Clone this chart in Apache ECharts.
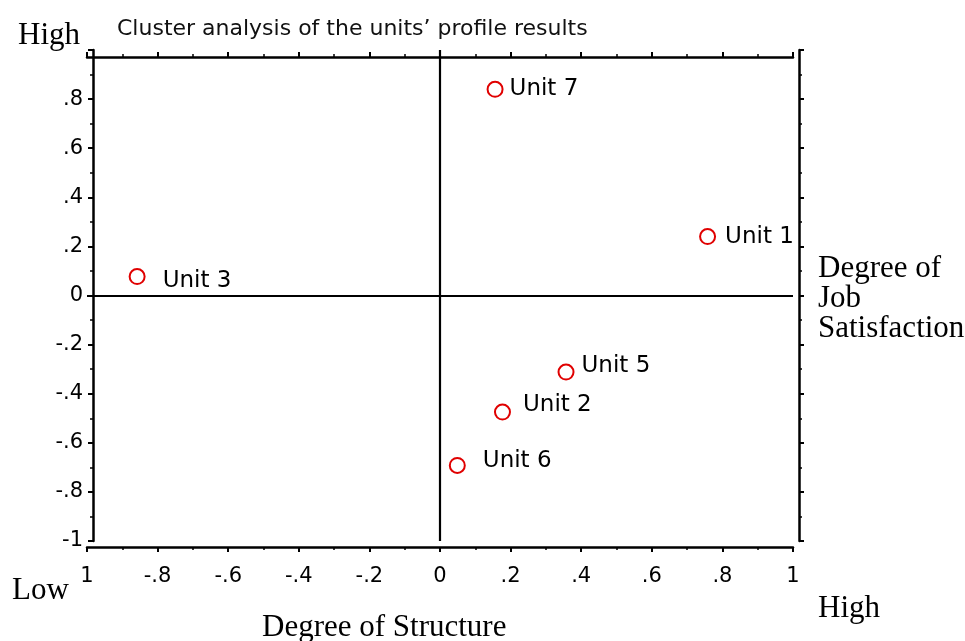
<!DOCTYPE html>
<html>
<head>
<meta charset="utf-8">
<script src="https://cdn.jsdelivr.net/npm/echarts@6/dist/echarts.min.js"></script>
<style>
  html, body { margin: 0; padding: 0; background: #fff; }
  #chart { width: 965px; height: 641px; }
</style>
</head>
<body>
<div id="chart"></div>
<script>
// units and their coordinates (structure, job satisfaction)
var units = ["Unit 7", "Unit 1", "Unit 3", "Unit 5", "Unit 2", "Unit 6"];
var structure = [0.156, 0.758, -0.858, 0.357, 0.177, 0.049];
var satisfaction = [0.840, 0.240, 0.077, -0.312, -0.475, -0.692];

// tick labels as printed on the original
var xTickLabels = ["1", "-.8", "-.6", "-.4", "-.2", "0", ".2", ".4", ".6", ".8", "1"];
var yTickLabels = ["-1", "-.8", "-.6", "-.4", "-.2", "0", ".2", ".4", ".6", ".8", ""];

// label nudges, px (layout only)
var labelOffsets = [[1, 0], [4, 0], [12, 4], [2, -6], [7, -7], [12, -4]];

var sans = "DejaVu Sans";
var serif = "Liberation Serif";
var ink = "#000";

function tickText(list) {
  return function (v) {
    var i = Math.round((v + 1) / 0.2);
    return list[i] == null ? "" : list[i];
  };
}

var points = units.map(function (name, i) {
  return {
    name: name,
    value: [structure[i], satisfaction[i]],
    label: { offset: labelOffsets[i] }
  };
});

var axisBase = {
  type: "value",
  min: -1,
  max: 1,
  interval: 0.2,
  axisLine: { show: true, onZero: false, lineStyle: { color: ink, width: 2.5 } },
  axisTick: { show: true, length: 5, lineStyle: { color: ink, width: 2 } },
  minorTick: { show: true, splitNumber: 2, length: 3, lineStyle: { color: ink, width: 1.5 } },
  splitLine: { show: false }
};

var option = {
  backgroundColor: "#fff",
  animation: false,
  title: {
    text: "Cluster analysis of the units\u2019 profile results",
    left: 112,
    top: 13,
    textStyle: { fontFamily: sans, fontSize: 22, fontWeight: "normal", color: "#111" }
  },
  grid: { left: 87, right: 172, top: 50, bottom: 100 },
  xAxis: [
    Object.assign({}, axisBase, {
      position: "bottom",
      offset: 6,
      axisLabel: { formatter: tickText(xTickLabels), fontFamily: sans, fontSize: 21, color: ink, margin: 19 }
    }),
    Object.assign({}, axisBase, {
      position: "top",
      offset: -7,
      axisLabel: { show: false }
    })
  ],
  yAxis: [
    Object.assign({}, axisBase, {
      position: "left",
      offset: -6,
      axisLabel: { formatter: tickText(yTickLabels), fontFamily: sans, fontSize: 21, color: ink, margin: 10 }
    }),
    Object.assign({}, axisBase, {
      position: "right",
      offset: 6,
      axisLabel: { show: false }
    })
  ],
  series: [
    {
      type: "scatter",
      data: points,
      symbol: "emptyCircle",
      symbolSize: 15,
      itemStyle: { color: "#e00000", borderColor: "#e00000", borderWidth: 2.2, opacity: 1 },
      label: {
        show: true,
        position: "right",
        formatter: "{b}",
        fontFamily: sans,
        fontSize: 23,
        color: ink
      },
      markLine: {
        silent: true,
        symbol: "none",
        label: { show: false },
        lineStyle: { color: ink, width: 2.2, type: "solid", opacity: 1 },
        data: [{ xAxis: 0 }, { yAxis: 0 }]
      }
    }
  ],
  graphic: [
    { type: "text", left: 18, top: 20, style: { text: "High", font: "31px " + serif, fill: ink } },
    { type: "text", left: 12, top: 575, style: { text: "Low", font: "31px " + serif, fill: ink } },
    { type: "text", left: 818, top: 593, style: { text: "High", font: "31px " + serif, fill: ink } },
    { type: "text", left: 262, top: 612, style: { text: "Degree of Structure", font: "31px " + serif, fill: ink } },
    {
      type: "text", left: 818, top: 253,
      style: { text: "Degree of\nJob\nSatisfaction", font: "31px " + serif, lineHeight: 30, fill: ink }
    }
  ]
};

var chart = echarts.init(document.getElementById("chart"));
chart.setOption(option);
</script>
</body>
</html>
